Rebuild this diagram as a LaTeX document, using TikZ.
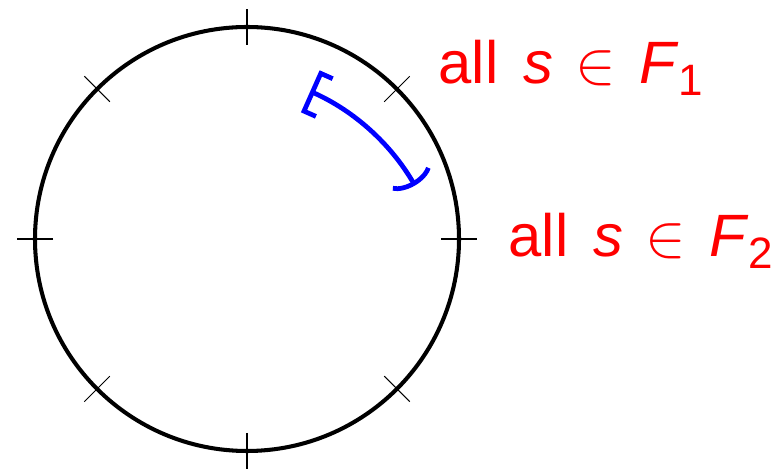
\documentclass[tikz,border=0pt]{standalone}
\usepackage{fontspec}
\setmainfont{Liberation Sans}
\usetikzlibrary{arrows.meta}
\newcommand{\memberof}[1]{all\hspace{0.42em}\textit{s}\hspace{0.36em}$\in$\hspace{0.4em}\textit{F}\raisebox{-0.2em}{\fontsize{12.5}{12.5}\selectfont #1}}

\begin{document}
\begin{tikzpicture}[x=0.01cm, y=0.01cm,
    rim/.style={line width=1.15pt},
    tick/.style={line width=0.3pt},
    span/.style={blue, line width=1.35pt,
                 {Bracket[width=0.46cm, length=0.13cm]}-{Parenthesis[width=0.52cm, length=0.15cm]}},
    lbl/.style={red, font=\fontsize{17}{20}\selectfont, inner sep=0pt, anchor=base west}]
    \useasboundingbox (0,0) rectangle (776,470);

    \coordinate (o) at (247,231);
    \coordinate (c) at (217.5,170.4);

    \draw[rim] (o) circle[radius=212];
    \foreach \a in {0,45,...,315} {
        \draw[tick] (o) ++(\a:194) -- ++(\a:36);
    }

    \draw[span] (c) ++(66:228) arc[start angle=66, end angle=30, radius=228];

    \node[lbl] (f1) at (438,386) {\memberof{1}};
    \node[lbl] (f2) at (508,213) {\memberof{2}};
\end{tikzpicture}
\end{document}
